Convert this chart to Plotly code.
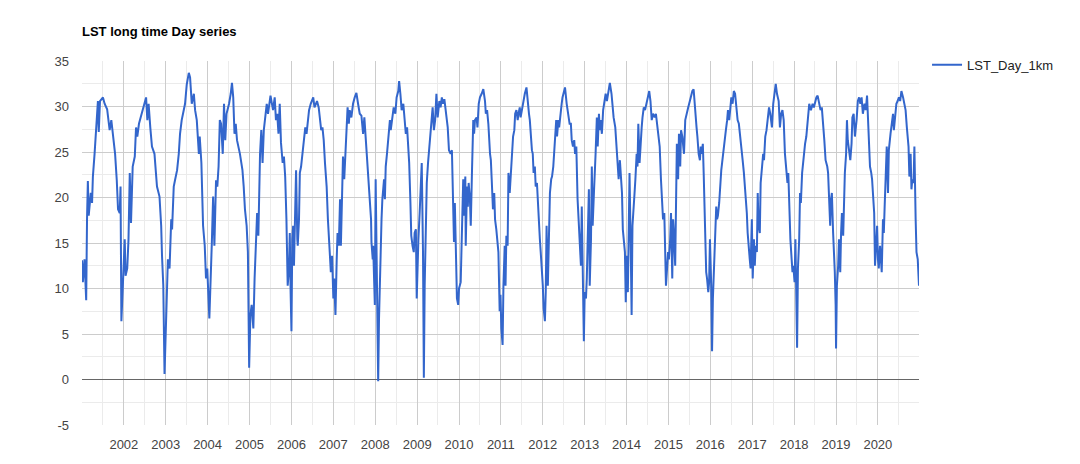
import pandas as pd
import plotly.graph_objects as go

# Time of each reading, in years elapsed since 2001-01-01
years_since_2001 = [
    0.00, 0.02, 0.06, 0.10, 0.12, 0.14, 0.16, 0.21, 0.24, 0.26, 0.30, 0.34, 0.38, 0.40, 0.43, 0.50, 0.54, 0.60, 0.66, 0.70,
    0.74, 0.79, 0.83, 0.86, 0.90, 0.92, 0.94, 0.98, 1.02, 1.04, 1.08, 1.11, 1.14, 1.17, 1.21, 1.26, 1.29, 1.32, 1.36, 1.40,
    1.44, 1.49, 1.53, 1.56, 1.59, 1.63, 1.67, 1.73, 1.79, 1.85, 1.89, 1.91, 1.94, 1.97, 2.01, 2.05, 2.09, 2.13, 2.15, 2.19,
    2.22, 2.27, 2.31, 2.34, 2.38, 2.43, 2.46, 2.50, 2.55, 2.58, 2.62, 2.67, 2.70, 2.74, 2.79,
    2.81, 2.85, 2.89, 2.93, 2.96, 2.99, 3.04, 3.07, 3.10, 3.13, 3.16, 3.20, 3.23, 3.26, 3.29, 3.32, 3.36, 3.39, 3.42, 3.45,
    3.51, 3.55, 3.58, 3.61, 3.64, 3.67, 3.70, 3.77, 3.83, 3.86, 3.89, 3.93, 3.96, 3.99, 4.02, 4.05, 4.09, 4.12, 4.15, 4.18,
    4.21, 4.25, 4.28, 4.31, 4.34, 4.37, 4.41, 4.44, 4.47, 4.50, 4.56, 4.60, 4.63, 4.66, 4.69, 4.72, 4.75, 4.79, 4.82, 4.85,
    4.88, 4.91, 4.94, 4.96, 4.98, 5.00, 5.02, 5.04, 5.06, 5.09, 5.11, 5.14, 5.15, 5.18, 5.20, 5.23, 5.26, 5.30, 5.33, 5.36,
    5.39, 5.42, 5.46, 5.52, 5.55, 5.58, 5.61, 5.65, 5.68, 5.71, 5.74, 5.77, 5.80, 5.84, 5.87, 5.90,
    5.92, 5.94, 5.97, 6.00, 6.02, 6.05, 6.08, 6.10, 6.13, 6.16, 6.18, 6.21, 6.23, 6.26, 6.29, 6.31, 6.34, 6.37, 6.39, 6.43,
    6.47, 6.51, 6.55, 6.59, 6.63, 6.67, 6.71, 6.74, 6.77, 6.79, 6.82, 6.85, 6.87, 6.90, 6.91, 6.94, 6.95, 6.97, 6.99, 7.01,
    7.05, 7.07, 7.09, 7.13, 7.15, 7.17, 7.21, 7.23, 7.25, 7.28, 7.31, 7.35, 7.37, 7.40, 7.44, 7.48, 7.51, 7.55, 7.57, 7.60,
    7.63, 7.67, 7.70, 7.73, 7.76, 7.79, 7.81, 7.84, 7.86, 7.89, 7.92, 7.94, 7.97, 7.99, 8.01, 8.03, 8.06, 8.09, 8.11, 8.14,
    8.16, 8.18, 8.21, 8.23, 8.26, 8.29, 8.32, 8.34, 8.37, 8.40, 8.43, 8.46, 8.49, 8.53, 8.56, 8.59, 8.62, 8.65, 8.69, 8.73,
    8.76,
    8.80, 8.83, 8.86, 8.88, 8.90, 8.92, 8.95, 8.98, 9.00, 9.04, 9.06, 9.08, 9.10, 9.12, 9.15, 9.16, 9.19, 9.21, 9.23, 9.26,
    9.28, 9.31, 9.34, 9.36, 9.38, 9.42, 9.44, 9.47, 9.50, 9.54, 9.58, 9.62, 9.64, 9.67, 9.70, 9.74, 9.76, 9.78, 9.81, 9.84,
    9.86, 9.89, 9.92, 9.94, 9.97, 9.99, 10.01, 10.04, 10.06, 10.09, 10.11, 10.13, 10.16, 10.18, 10.21, 10.23, 10.26, 10.29,
    10.32, 10.34, 10.37, 10.40, 10.42, 10.45, 10.47, 10.50, 10.53, 10.57, 10.61, 10.64, 10.67, 10.69, 10.71, 10.74, 10.76,
    10.78, 10.81, 10.83, 10.86, 10.88, 10.90, 10.93, 10.95, 10.98, 11.00, 11.02, 11.05, 11.07, 11.09, 11.12, 11.15, 11.17,
    11.20, 11.22, 11.25, 11.27, 11.29, 11.32, 11.34, 11.37, 11.39, 11.41, 11.45, 11.47, 11.50, 11.53, 11.57, 11.60, 11.64,
    11.67, 11.69, 11.72, 11.75, 11.77, 11.80, 11.83, 11.85, 11.88, 11.91, 11.93, 11.95, 11.98, 12.00, 12.03, 12.05, 12.07,
    12.10, 12.12, 12.15, 12.17, 12.19, 12.22, 12.24, 12.26, 12.29, 12.31, 12.34, 12.36, 12.38, 12.41, 12.44, 12.47, 12.50,
    12.53, 12.57, 12.60, 12.64, 12.66, 12.69, 12.73, 12.76, 12.79, 12.81, 12.84, 12.86, 12.89, 12.91, 12.93, 12.96, 12.98,
    13.00, 13.03, 13.05, 13.07, 13.10, 13.12, 13.14, 13.16, 13.19, 13.21, 13.24, 13.26, 13.28, 13.31, 13.33, 13.36, 13.38,
    13.41, 13.44, 13.48, 13.51, 13.54, 13.57, 13.60, 13.63, 13.67, 13.70, 13.73, 13.76, 13.79, 13.82, 13.85, 13.87, 13.90,
    13.92, 13.94, 13.97, 13.99, 14.01, 14.04, 14.06, 14.09, 14.11, 14.13, 14.16, 14.18, 14.20, 14.23, 14.25, 14.28, 14.30,
    14.33, 14.37, 14.40, 14.43, 14.47, 14.51,
    14.57, 14.60, 14.64, 14.67, 14.69, 14.72, 14.75, 14.77, 14.79, 14.82, 14.84, 14.86, 14.87, 14.90, 14.92, 14.95, 14.97,
    14.99, 15.02, 15.04, 15.06, 15.09, 15.11, 15.14, 15.16, 15.18, 15.21, 15.23, 15.26, 15.28, 15.30, 15.33, 15.35, 15.37,
    15.40, 15.42, 15.45, 15.47, 15.50, 15.53, 15.56, 15.59, 15.62, 15.65, 15.68, 15.70, 15.73, 15.75, 15.77, 15.80, 15.82,
    15.84, 15.87, 15.89, 15.92, 15.94, 15.96, 15.99, 16.01, 16.04, 16.06, 16.08, 16.11, 16.13, 16.15, 16.18, 16.20, 16.23,
    16.26, 16.28, 16.31, 16.34, 16.37, 16.40, 16.43, 16.47, 16.50, 16.53, 16.56, 16.59, 16.63, 16.66, 16.69, 16.72, 16.75,
    16.78, 16.82, 16.84, 16.86, 16.89, 16.91, 16.94, 16.96, 16.98, 17.01, 17.03, 17.05, 17.07, 17.09, 17.12, 17.14, 17.16,
    17.19, 17.21, 17.24, 17.26, 17.29, 17.32, 17.36,
    17.40, 17.44, 17.47, 17.50, 17.53, 17.56, 17.59, 17.63, 17.66, 17.69, 17.72, 17.75, 17.79, 17.81, 17.83, 17.86, 17.88,
    17.90, 17.93, 17.95, 17.97, 17.99, 18.00, 18.02, 18.05, 18.07, 18.10, 18.12, 18.14, 18.17, 18.19, 18.21, 18.24, 18.26,
    18.28, 18.31, 18.34, 18.37, 18.39, 18.42, 18.45, 18.49, 18.52, 18.55, 18.58, 18.61, 18.64, 18.68, 18.71, 18.74, 18.76,
    18.79, 18.81, 18.84, 18.86, 18.88, 18.91, 18.93, 18.96, 18.98, 19.00, 19.02, 19.05, 19.07, 19.09, 19.12, 19.14, 19.16,
    19.19, 19.21, 19.24, 19.26, 19.30, 19.33, 19.36, 19.38, 19.40, 19.44, 19.47, 19.50, 19.53, 19.56, 19.60, 19.63, 19.66,
    19.69, 19.73, 19.75, 19.78, 19.80, 19.82, 19.85, 19.87, 19.90, 19.92, 19.95, 19.97, 19.98,
]

# LST_Day_1km values (deg C)
lst_day_1km = [
    13.1, 10.7, 13.2, 8.7, 17.6, 21.8, 18.0, 20.5, 19.4, 22.3, 24.8, 27.4, 30.6, 27.2, 30.6, 31.0, 30.3, 29.7, 27.4, 28.5,
    26.6, 24.8, 21.9, 18.7, 18.3, 21.2, 6.4, 10.4, 15.4, 11.4, 12.2, 15.4, 22.7, 17.2, 23.4, 24.5, 27.7, 26.7, 28.1, 28.8,
    29.5, 30.6, 31.0, 28.5, 30.3, 27.7, 25.6, 24.8, 21.2, 20.1, 16.9, 13.6, 10.4, 0.6, 6.0, 13.2, 12.2, 17.6, 16.5, 21.2,
    21.9, 23.0, 24.8, 27.0, 28.5, 29.5, 30.3, 32.4, 33.7, 33.2, 30.3, 31.4, 29.6, 28.5, 24.8,
    26.7, 23.8, 16.9, 14.7, 11.1, 12.2, 6.7, 10.4, 15.1, 20.1, 14.7, 21.9, 21.2, 23.4, 28.5, 28.1, 24.8, 30.3, 26.3, 29.2,
    30.3, 31.4, 32.6, 31.0, 27.0, 28.1, 26.3, 24.8, 23.0, 21.2, 18.7, 16.9, 14.0, 1.3, 7.1, 8.2, 5.6, 11.1, 14.7, 18.3,
    15.8, 24.8, 27.4, 23.8, 27.4, 28.5, 30.3, 29.2, 30.6, 31.2, 29.6, 31.0, 28.5, 29.2, 27.0, 30.3, 26.0, 23.8, 24.5, 22.3,
    17.6, 10.3, 12.2, 16.1, 9.6, 5.3, 15.4, 16.9, 12.5, 17.6, 23.0, 15.4, 14.7, 17.6, 22.7, 23.4, 24.8, 26.3, 27.7, 27.0,
    28.5, 29.6, 30.3, 31.0, 29.9, 30.3, 30.6, 29.9, 28.5, 27.4, 27.7, 26.3, 23.8, 21.2, 17.6, 14.7,
    14.0, 11.8, 13.6, 8.9, 11.1, 7.1, 13.2, 16.1, 14.7, 19.8, 14.7, 20.1, 24.5, 22.0, 24.8, 27.0, 29.9, 28.1, 29.6, 28.8,
    30.3, 31.0, 31.5, 30.3, 29.2, 29.0, 27.0, 28.8, 26.7, 24.8, 23.4, 21.2, 20.1, 17.6, 15.1, 13.2, 14.7, 11.1, 8.2, 22.0,
    10.3, -0.2, 6.7, 16.9, 17.6, 19.8, 22.0, 19.8, 23.4, 24.8, 26.7, 28.5, 27.4, 28.8, 29.9, 29.2, 31.0, 31.7, 32.8, 31.4,
    29.6, 30.3, 28.5, 27.0, 27.7, 25.6, 23.8, 19.4, 15.8, 14.7, 14.0, 16.1, 16.5, 8.9, 14.0, 15.4, 18.3, 22.0, 23.8, 14.0,
    0.2, 10.3, 19.0, 21.6, 23.8, 25.6, 27.4, 27.7, 29.9, 27.4, 28.5, 31.4, 28.8, 30.6, 29.9, 31.0, 30.3, 30.8, 29.2, 27.7,
    25.2,
    24.8, 25.2, 19.4, 15.1, 19.4, 14.0, 8.9, 8.2, 10.0, 10.7, 14.7, 17.6, 22.0, 18.0, 22.3, 14.7, 21.2, 19.0, 21.6, 19.8,
    16.9, 23.0, 28.5, 27.0, 28.5, 28.8, 27.7, 30.3, 31.0, 31.4, 31.9, 30.6, 29.2, 29.6, 28.1, 24.8, 24.1, 22.0, 18.7, 20.5,
    17.6, 16.5, 14.7, 14.0, 7.5, 9.3, 5.6, 3.8, 10.3, 14.7, 10.3, 15.8, 14.7, 22.7, 20.5, 22.3, 24.8, 26.7,
    27.4, 29.2, 29.6, 28.5, 29.2, 29.9, 28.8, 29.6, 30.6, 31.4, 32.1, 30.3, 29.2, 28.5, 27.0, 25.2, 24.8,
    22.7, 23.4, 21.2, 21.6, 19.4, 17.6, 15.4, 14.0, 12.2, 10.3, 7.8, 6.4, 9.6, 16.9, 10.3, 15.4, 20.5,
    22.0, 22.3, 23.4, 24.8, 26.3, 28.5, 26.7, 28.5, 27.7, 28.8, 30.3, 31.0, 31.7, 32.1, 30.3, 29.2, 28.1,
    28.1, 26.3, 25.6, 26.3, 24.8, 25.6, 19.8, 17.6, 15.4, 12.5, 19.0, 12.5, 4.2, 9.6, 8.9, 11.1, 14.7,
    20.9, 10.3, 15.4, 23.4, 16.9, 20.5, 22.0, 24.8, 28.8, 25.6, 29.2, 27.4, 28.5, 27.0, 29.6, 30.3, 31.4,
    30.6, 31.7, 32.6, 31.4, 29.9, 28.8, 27.7, 25.9, 24.1, 22.0, 24.1, 23.0, 20.5, 16.5, 15.4, 14.0, 8.5,
    13.6, 9.6, 15.4, 22.7, 14.0, 7.1, 16.9, 19.0, 20.5, 22.0, 24.8, 23.4, 28.1, 23.8, 25.9, 27.7, 28.8,
    29.9, 29.6, 30.6, 31.0, 31.7, 30.6, 28.5, 29.2, 28.8, 29.2, 27.7, 26.3, 25.6, 22.0, 19.4, 17.6, 18.3,
    15.1, 10.3, 12.5, 14.0, 13.2, 15.4, 18.3, 11.1, 17.6, 16.1, 12.5, 21.2, 25.9, 22.0, 27.0, 23.4, 27.4,
    26.7, 24.8, 28.5, 29.2, 29.9, 30.6,
    31.7, 31.9, 28.8, 27.7, 26.7, 24.8, 24.1, 25.6, 24.8, 25.9, 22.7, 17.6, 17.2, 11.8, 11.1, 9.6, 10.7,
    15.4, 10.3, 3.1, 8.9, 13.6, 16.5, 19.0, 17.6, 18.0, 19.4, 21.2, 23.0, 23.8, 24.8, 25.6, 27.0, 27.4,
    28.5, 29.6, 28.5, 29.6, 31.0, 30.3, 31.7, 31.4, 29.9, 28.5, 28.1, 27.0, 26.3, 24.8, 24.1, 22.7, 21.6,
    20.5, 18.3, 16.1, 13.6, 13.2, 12.2, 17.6, 11.1, 15.4, 12.5, 14.7, 14.0, 20.5, 16.9, 16.1, 21.6, 23.4,
    24.8, 24.1, 26.7, 27.4, 28.5, 29.9, 29.2, 27.7, 30.3, 31.7, 32.5, 31.4, 30.6, 27.7, 29.2, 29.6, 28.5,
    24.8, 23.0, 21.6, 22.7, 17.6, 15.4, 13.2, 11.8, 12.5, 10.7, 15.4, 10.3, 3.5, 12.2, 15.4, 20.5, 19.4,
    22.7, 23.8, 24.8, 25.9, 26.7, 28.5, 30.3,
    29.6, 30.3, 29.9, 30.6, 31.0, 31.2, 30.3, 29.6, 29.9, 27.4, 26.3, 24.1, 23.4, 22.7, 20.9, 16.9, 19.8,
    20.5, 16.1, 14.3, 11.8, 8.2, 3.4, 10.3, 12.5, 15.4, 11.8, 16.1, 18.3, 15.8, 20.5, 22.7, 24.8, 28.5,
    26.3, 25.2, 24.1, 25.9, 28.8, 29.2, 26.7, 28.5, 30.6, 31.0, 30.3, 31.0, 29.2, 30.3, 29.6, 31.2, 28.8,
    25.6, 23.4, 22.7, 22.0, 20.5, 18.3, 12.5, 15.4, 16.9, 13.2, 12.2, 14.7, 12.5, 11.8, 17.6, 16.1, 19.0,
    23.0, 25.6, 20.5, 25.2, 27.0, 28.1, 29.2, 27.4, 28.5, 30.3, 30.6, 31.0, 30.6, 31.7, 31.0, 30.3, 29.6,
    27.7, 25.6, 22.3, 24.8, 20.9, 22.0, 21.6, 25.6, 17.6, 14.0, 13.2, 11.1, 10.3,
]

tick_years = list(range(2002, 2021))
y_ticks = [-5, 0, 5, 10, 15, 20, 25, 30, 35]
series_name = "LST_Day_1km"
chart_title = "LST long time Day series"

start = pd.Timestamp("2001-01-01")
dates = [start + pd.to_timedelta(t * 365.25, unit="D") for t in years_since_2001]

FONT = "Arial, 'Liberation Sans', sans-serif"

fig = go.Figure()
fig.add_trace(go.Scatter(
    x=dates, y=lst_day_1km, mode="lines", name=series_name,
    line=dict(color="#3366cc", width=2),
))

major_x = [pd.Timestamp(f"{y}-01-01") for y in tick_years]
minor_x = [pd.Timestamp(f"{y}-07-01") for y in range(tick_years[0] - 1, tick_years[-1] + 1)]

# the page body adds an 8px offset, so the figure is sized/margined to compensate
W, H = 1072, 456
fig.update_layout(
    width=W, height=H,
    margin=dict(l=74, r=161, t=53, b=34),
    paper_bgcolor="white", plot_bgcolor="white",
    font=dict(family=FONT, size=13, color="#444"),
    title=dict(text=f"<b>{chart_title}</b>", x=74 / W, xref="container", xanchor="left",
               y=1 - 23.5 / H, yref="container", yanchor="middle",
               font=dict(family=FONT, size=13, color="#000")),
    showlegend=True,
    legend=dict(x=1.0096, xanchor="left", y=1.031, yanchor="top",
                font=dict(family=FONT, size=13, color="#222"),
                bgcolor="rgba(0,0,0,0)", borderwidth=0),
    xaxis=dict(
        type="date", range=[dates[0], dates[-1]],
        tickmode="array", tickvals=major_x, ticktext=[str(y) for y in tick_years],
        showgrid=True, gridcolor="#cccccc", gridwidth=1,
        minor=dict(tickmode="array", tickvals=minor_x, showgrid=True, gridcolor="#ebebeb", gridwidth=1),
        showline=False, zeroline=False, ticks="", ticklabelstandoff=10,
        tickfont=dict(family=FONT, size=13, color="#444"),
    ),
    yaxis=dict(
        range=[-5, 35], tickmode="array", tickvals=y_ticks, ticktext=[str(v) for v in y_ticks],
        showgrid=True, gridcolor="#cccccc", gridwidth=1,
        minor=dict(dtick=2.5, tick0=0, showgrid=True, gridcolor="#ebebeb", gridwidth=1),
        zeroline=True, zerolinecolor="#666666", zerolinewidth=1,
        showline=False, ticks="", ticklabelstandoff=12,
        tickfont=dict(family=FONT, size=13, color="#444"),
    ),
)

fig.write_html("out.html")
